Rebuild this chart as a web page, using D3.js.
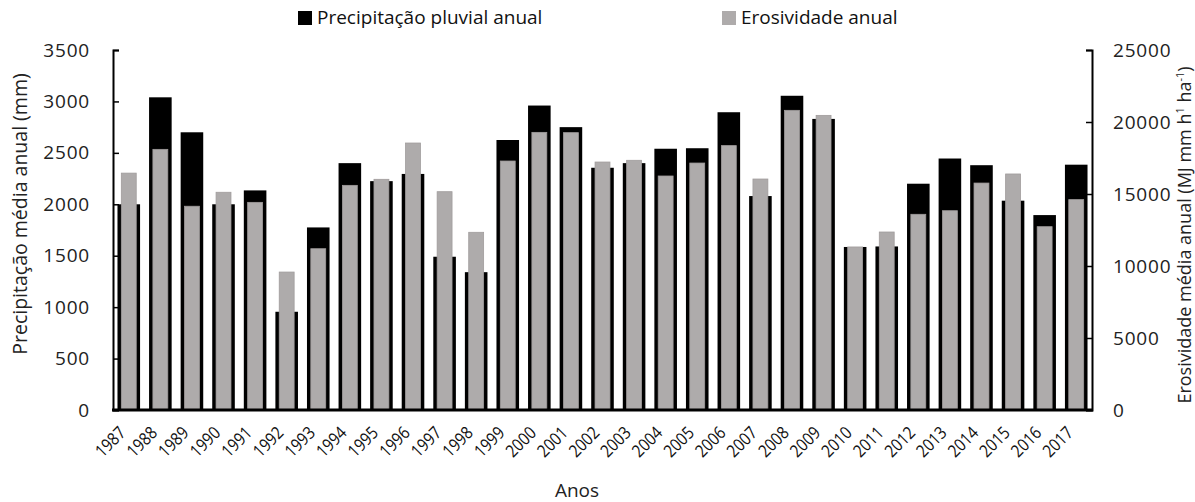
<!DOCTYPE html>
<html><head><meta charset="utf-8">
<script src="https://cdn.jsdelivr.net/npm/d3@7"></script>
<style>
body{margin:0;background:#fff;}
svg{display:block;font-family:"Open Sans",sans-serif;}
</style></head>
<body><svg id="c" width="1195" height="502"></svg>
<script>
const years = ["1987","1988","1989","1990","1991","1992","1993","1994","1995","1996","1997","1998","1999","2000","2001","2002","2003","2004","2005","2006","2007","2008","2009","2010","2011","2012","2013","2014","2015","2016","2017"];
const precipitacao = [2000,3040,2700,2000,2135,955,1775,2400,2225,2295,1490,1340,2625,2960,2750,2355,2400,2540,2545,2895,2080,3055,2830,1585,1590,2200,2445,2380,2035,1895,2385];
const erosividade = [16450,18100,14150,15120,14420,9580,11200,15600,16020,18540,15160,12340,17290,19280,19260,17220,17340,16250,17150,18360,16040,20810,20460,11320,12360,13590,13840,15760,16390,12730,14610];
const leftTicks = [0,500,1000,1500,2000,2500,3000,3500];
const rightTicks = [0,5000,10000,15000,20000,25000];

const svg = d3.select("#c");
const L = 113, R = 1092, T = 50, B = 410;
const x = d3.scaleBand().domain(years).range([L, R]).paddingInner(0.285).paddingOuter(0.142);
const yL = d3.scaleLinear().domain([0,3500]).range([B,T]);
const yR = d3.scaleLinear().domain([0,25000]).range([B,T]);
const grey = "#aeabab";
const fs = "19px";

// bars
svg.append("g").selectAll("rect").data(years).join("rect")
  .attr("x", d=>x(d)).attr("width", x.bandwidth())
  .attr("y", (d,i)=>yL(precipitacao[i])).attr("height",(d,i)=>B - yL(precipitacao[i]))
  .attr("fill","#000");
const gw = x.bandwidth()*0.66;
svg.append("g").selectAll("rect").data(years).join("rect")
  .attr("x", d=>x(d)+(x.bandwidth()-gw)/2).attr("width", gw)
  .attr("y", (d,i)=>yR(erosividade[i])).attr("height",(d,i)=>B - yR(erosividade[i]))
  .attr("fill",grey).attr("stroke","#a09c9c").attr("stroke-width",0.8);

// left axis
const aL = svg.append("g").attr("transform",`translate(${L},0)`)
  .call(d3.axisLeft(yL).tickValues(leftTicks).tickSize(-6).tickPadding(23).tickFormat(d3.format("d")));
aL.select(".domain").attr("stroke","#000").attr("stroke-width",2);
aL.selectAll(".tick line").attr("stroke","#000").attr("stroke-width",1.5);
aL.selectAll("text").attr("font-size",fs).attr("fill","#222").attr("font-family","Open Sans").attr("letter-spacing","0.8px");

// right axis
const aR = svg.append("g").attr("transform",`translate(${R},0)`)
  .call(d3.axisRight(yR).tickValues(rightTicks).tickSize(-6).tickPadding(21).tickFormat(d3.format("d")));
aR.select(".domain").attr("stroke","#000").attr("stroke-width",2);
aR.selectAll(".tick line").attr("stroke","#000").attr("stroke-width",1.5);
aR.selectAll("text").attr("font-size",fs).attr("fill","#222").attr("font-family","Open Sans").attr("letter-spacing","0.8px");

// bottom axis
const aB = svg.append("g").attr("transform",`translate(0,${B})`)
  .call(d3.axisBottom(x).tickSize(0).tickFormat(""));
aB.select(".domain").attr("stroke","#000").attr("stroke-width",3).attr("d",`M${L-1},0H${R+1}`);
svg.append("g").selectAll("text").data(years).join("text")
  .attr("transform", d=>`translate(${x(d)+x.bandwidth()/2-2},${B+24}) rotate(-45) scale(0.86,1)`)
  .attr("text-anchor","end").attr("font-size","17.5px").attr("fill","#111")
  .text(d=>d);

// axis titles
svg.append("text").attr("transform","translate(27,214) rotate(-90)").attr("text-anchor","middle")
  .attr("font-size","19.5px").attr("fill","#222").text("Precipitação média anual (mm)");
const rt = svg.append("text").attr("transform","translate(1191,235) rotate(-90)").attr("text-anchor","middle")
  .attr("font-size","18px").attr("fill","#222");
rt.append("tspan").text("Erosividade média anual (MJ mm h");
rt.append("tspan").attr("font-size","11px").attr("dy",-7).text("1");
rt.append("tspan").attr("dy",7).text(" ha");
rt.append("tspan").attr("font-size","11px").attr("dy",-7).text("-1");
rt.append("tspan").attr("dy",7).text(")");
svg.append("text").attr("x",577).attr("y",497).attr("text-anchor","middle")
  .attr("font-size",fs).attr("fill","#222").text("Anos");

// legend
const legend = [{label:"Precipitação pluvial anual", color:"#000", x:298},{label:"Erosividade anual", color:grey, x:722}];
const lg = svg.append("g").selectAll("g").data(legend).join("g").attr("transform",d=>`translate(${d.x},11)`);
lg.append("rect").attr("width",14).attr("height",14).attr("fill",d=>d.color);
lg.append("text").attr("x",19).attr("y",13).attr("font-size",fs).attr("fill","#111").text(d=>d.label);
</script></body></html>
